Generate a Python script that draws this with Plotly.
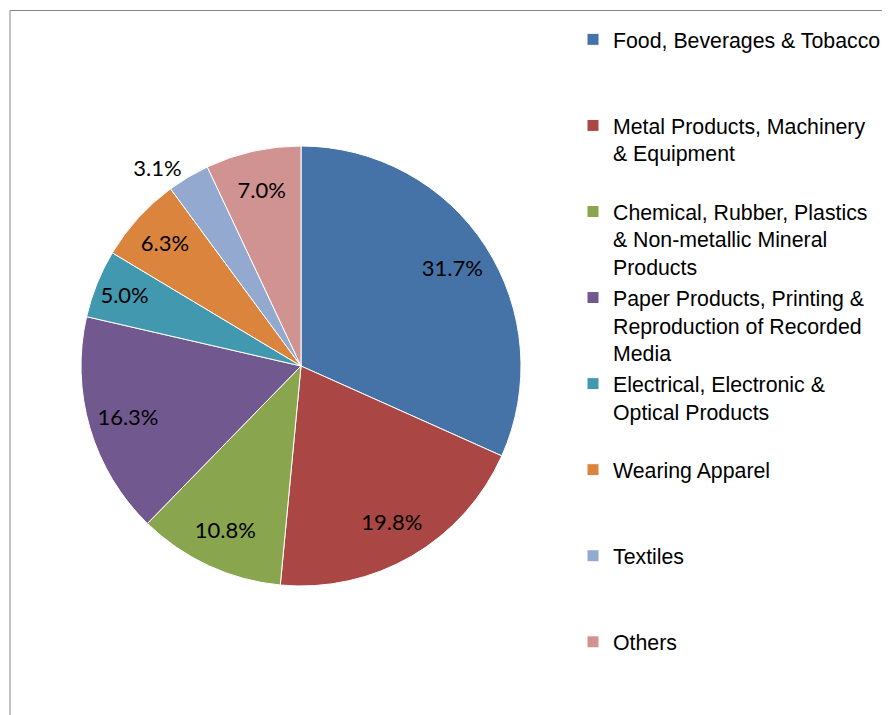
import plotly.graph_objects as go

# parts de la production (%)
categories = [
    "Food, Beverages & Tobacco<br> <br> ",
    "Metal Products, Machinery<br>& Equipment<br> ",
    "Chemical, Rubber, Plastics<br>& Non-metallic Mineral<br>Products",
    "Paper Products, Printing &<br>Reproduction of Recorded<br>Media",
    "Electrical, Electronic &<br>Optical Products<br> ",
    "Wearing Apparel<br> <br> ",
    "Textiles<br> <br> ",
    "Others<br> <br> ",
]
valeurs = [31.7, 19.8, 10.8, 16.3, 5.0, 6.3, 3.1, 7.0]
couleurs = ["#4572A7", "#AA4643", "#89A54E", "#71588F",
            "#4198AF", "#DB843D", "#93A9CF", "#D19392"]
positions = ["inside"] * 6 + ["outside", "inside"]

# la page a une marge de 8 px, on compense
dom = dict(x=[73 / 890, 513 / 890], y=[137 / 715, 577 / 715])

fig = go.Figure()
fig.add_trace(go.Pie(
    labels=categories,
    values=valeurs,
    sort=False,
    direction="clockwise",
    rotation=0,
    marker=dict(colors=couleurs, line=dict(color="white", width=1)),
    textinfo="none",
    domain=dom,
))
# second camembert transparent avec un trou : les étiquettes vont plus vers le bord
fig.add_trace(go.Pie(
    labels=categories,
    values=valeurs,
    sort=False,
    direction="clockwise",
    rotation=0,
    hole=0.64,
    marker=dict(colors=["rgba(0,0,0,0)"] * len(valeurs), line=dict(width=0)),
    texttemplate="%{value:.1f}%",
    textposition=positions,
    insidetextorientation="horizontal",
    textfont=dict(family="Lato", size=22, color="black"),
    showlegend=False,
    hoverinfo="skip",
    domain=dom,
))

fig.update_layout(
    width=890,
    height=715,
    margin=dict(l=0, r=0, t=0, b=0),
    paper_bgcolor="white",
    showlegend=True,
    legend=dict(
        x=565 / 890, xanchor="left",
        y=1 - 11 / 715, yanchor="top",
        valign="top",
        font=dict(family="Liberation Sans", size=21.3, color="black"),
        bgcolor="rgba(0,0,0,0)",
    ),
    # cadre du graphique
    shapes=[dict(type="rect", xref="paper", yref="paper",
                 x0=2 / 890, x1=1.02, y0=-0.02, y1=1 - 2.5 / 715,
                 line=dict(color="#868686", width=1))],
)

fig.write_html("out.html")
